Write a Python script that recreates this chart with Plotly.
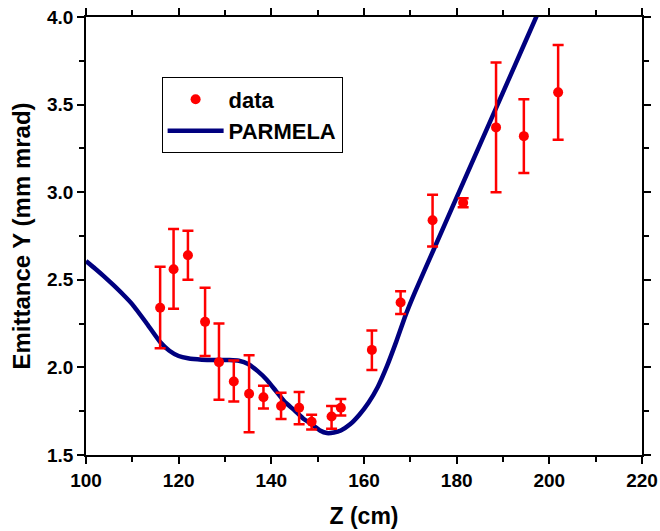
import plotly.graph_objects as go

# measured data
z_data = [116.0, 118.9, 122.0, 125.7, 128.7, 131.9, 135.2, 138.3, 142.1, 146.0,
          148.7, 153.0, 155.0, 161.7, 167.9, 174.8, 181.4, 188.5, 194.5, 201.9]
emit_data = [2.34, 2.56, 2.64, 2.26, 2.03, 1.92, 1.85, 1.83, 1.78, 1.77,
             1.69, 1.72, 1.77, 2.10, 2.37, 2.84, 2.94, 3.37, 3.32, 3.57]
err_plus = [0.235, 0.23, 0.14, 0.195, 0.22, 0.12, 0.22, 0.065, 0.075, 0.09,
            0.04, 0.06, 0.05, 0.11, 0.065, 0.145, 0.026, 0.37, 0.21, 0.27]
err_minus = [0.23, 0.225, 0.14, 0.195, 0.215, 0.115, 0.22, 0.065, 0.075, 0.095,
             0.045, 0.07, 0.045, 0.115, 0.065, 0.15, 0.026, 0.37, 0.21, 0.27]

# PARMELA simulation curve
z_sim = [100, 102, 104, 106, 108, 110, 113, 116, 118, 120, 122, 125, 128, 131, 133, 135,
         137, 139, 141, 143, 145, 147, 149, 150.5, 152, 153.5, 155, 157, 159, 161,
         163, 165, 167, 169, 171, 175, 180, 185, 190, 195, 200]
emit_sim = [2.607, 2.563, 2.517, 2.468, 2.416, 2.36, 2.255, 2.145, 2.095, 2.065, 2.052,
            2.044, 2.042, 2.042, 2.038, 2.02, 1.98, 1.93, 1.865, 1.80, 1.755, 1.705,
            1.67, 1.64, 1.625, 1.628, 1.64, 1.675, 1.73, 1.80, 1.89, 2.01, 2.15, 2.30,
            2.43, 2.67, 2.97, 3.27, 3.57, 3.87, 4.17]

x_ticks = [100, 120, 140, 160, 180, 200, 220]
y_ticks = [1.5, 2.0, 2.5, 3.0, 3.5, 4.0]

FONT = "Liberation Sans, Arial, sans-serif"

fig = go.Figure()
fig.add_trace(go.Scatter(
    x=z_sim, y=emit_sim, mode="lines", name="<b>PARMELA</b>",
    line=dict(color="#00007f", width=4.5, shape="spline", smoothing=0.4),
    legendrank=2,
))
fig.add_trace(go.Scatter(
    x=z_data, y=emit_data, mode="markers", name="<b>data</b>",
    marker=dict(color="#ff0000", size=10, symbol="circle"),
    error_y=dict(type="data", symmetric=False, array=err_plus, arrayminus=err_minus,
                 color="#ff0000", thickness=2.5, width=5.5),
    legendrank=1,
))

axis_common = dict(
    showline=True, linecolor="black", linewidth=1.5, mirror="ticks",
    ticks="outside", ticklen=7, tickwidth=1.5, tickcolor="black",
    showgrid=False, zeroline=False, automargin=False,
    tickfont=dict(family=FONT, size=19, color="black", weight="bold"),
)

fig.update_layout(
    width=660, height=531,
    margin=dict(l=86, r=18, t=17, b=76),
    paper_bgcolor="white", plot_bgcolor="white",
    font=dict(family=FONT, color="black"),
    xaxis=dict(range=[100, 220], tickvals=x_ticks, ticktext=[str(v) for v in x_ticks],
               minor=dict(dtick=10, ticks="outside", ticklen=5, tickwidth=1.5, tickcolor="black"),
               title=dict(text="<b>Z (cm)</b>", font=dict(family=FONT, size=23), standoff=18),
               **axis_common),
    yaxis=dict(range=[1.5, 4.0], tickvals=y_ticks, ticktext=[f"{v:.1f}" for v in y_ticks],
               minor=dict(dtick=0.25, ticks="outside", ticklen=5, tickwidth=1.5, tickcolor="black"),
               title=dict(text="<b>Emittance Y (mm mrad)</b>", font=dict(family=FONT, size=24), standoff=10),
               **axis_common),
    legend=dict(x=0.136, y=0.862, xanchor="left", yanchor="top",
                bordercolor="black", borderwidth=1, bgcolor="white",
                font=dict(family=FONT, size=22, color="black"),
                itemwidth=56, tracegroupgap=0),
    showlegend=True,
)

fig.write_html(
    "out.html",
    config={"displayModeBar": False},
    post_script="document.body.style.margin='0';document.body.style.overflow='hidden';",
)
